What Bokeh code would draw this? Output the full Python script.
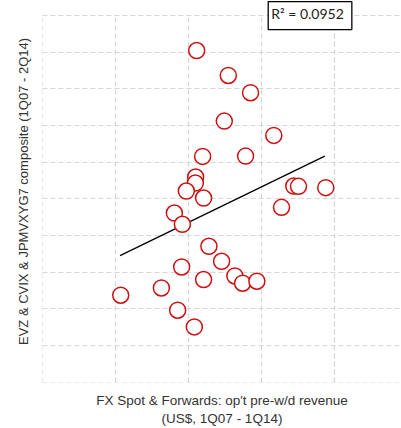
from bokeh.plotting import figure
from bokeh.models import Label, SingleIntervalTicker, Range1d
from bokeh.embed import file_html
from bokeh.resources import INLINE

# Data (x: revenue scale units, y: volatility composite units)
rev = [2.110, 2.544, 2.849, 2.489, 3.168, 2.192, 2.781, 2.096, 2.092, 1.968,
       2.205, 3.442, 3.507, 3.881, 3.274, 1.804, 1.914, 2.278, 2.452, 1.904,
       2.634, 2.205, 2.740, 2.936, 1.626, 1.068, 1.849, 2.078]
vol = [9.046, 8.365, 7.894, 7.120, 6.730, 6.158, 6.166, 5.594, 5.431, 5.213,
       5.022, 5.349, 5.341, 5.305, 4.768, 4.613, 4.305, 3.706, 3.297, 3.142,
       2.896, 2.798, 2.698, 2.752, 2.569, 2.371, 1.962, 1.507]
trend_x = [1.059, 3.867]
trend_y = [3.452, 6.166]
r2_text = "R\u00b2 = 0.0952"
y_top = 10

p = figure(width=401, height=428, output_backend="svg", toolbar_location=None,
           x_range=Range1d(-0.005, 4.92), y_range=Range1d(-0.01, 10.41),
           min_border_left=42, min_border_right=0, min_border_top=0, min_border_bottom=10)
p.outline_line_color = None
p.background_fill_color = "white"
p.border_fill_color = "white"

for ax in (p.xaxis, p.yaxis):
    ax.ticker = SingleIntervalTicker(interval=1)
    ax.major_label_text_font_size = "0px"
    ax.major_label_text_color = None
    ax.major_tick_line_color = None
    ax.minor_tick_line_color = None
    ax.axis_line_color = None
    ax.axis_label_text_font = "Liberation Sans"
    ax.axis_label_text_font_style = "normal"
    ax.axis_label_text_color = "#333333"

p.xaxis.axis_label_text_font_size = "13.5px"
p.yaxis.axis_label_text_font_size = "13px"
p.xaxis.axis_label = "FX Spot & Forwards: op't pre-w/d revenue\n(US$, 1Q07 - 1Q14)"
p.yaxis.axis_label = "EVZ & CVIX & JPMVXYG7 composite (1Q07 - 2Q14)"
p.xaxis.axis_label_standoff = 4
p.yaxis.axis_label_standoff = 6

for g in (p.xgrid, p.ygrid):
    g.grid_line_color = "#d6d6d6"
    g.grid_line_dash = "5 3"
    g.grid_line_width = 1.2
try:
    p.xgrid.cross_bounds = (0, y_top)
except Exception:
    pass

p.line(trend_x, trend_y, line_color="black", line_width=1.3)
p.scatter(rev, vol, marker="circle", size=16, fill_color="white",
          line_color="#cc1111", line_width=1.5)

lab = Label(x=3.665, y=y_top, text=r2_text, text_align="center", text_baseline="middle",
            text_font="Lato", text_font_size="14px", text_color="#222222",
            border_line_color="black", border_line_width=1.3,
            background_fill_color="white", padding=(3, 8, 3, 8))
p.add_layout(lab)

open("out.html", "w").write(file_html(p, INLINE))
